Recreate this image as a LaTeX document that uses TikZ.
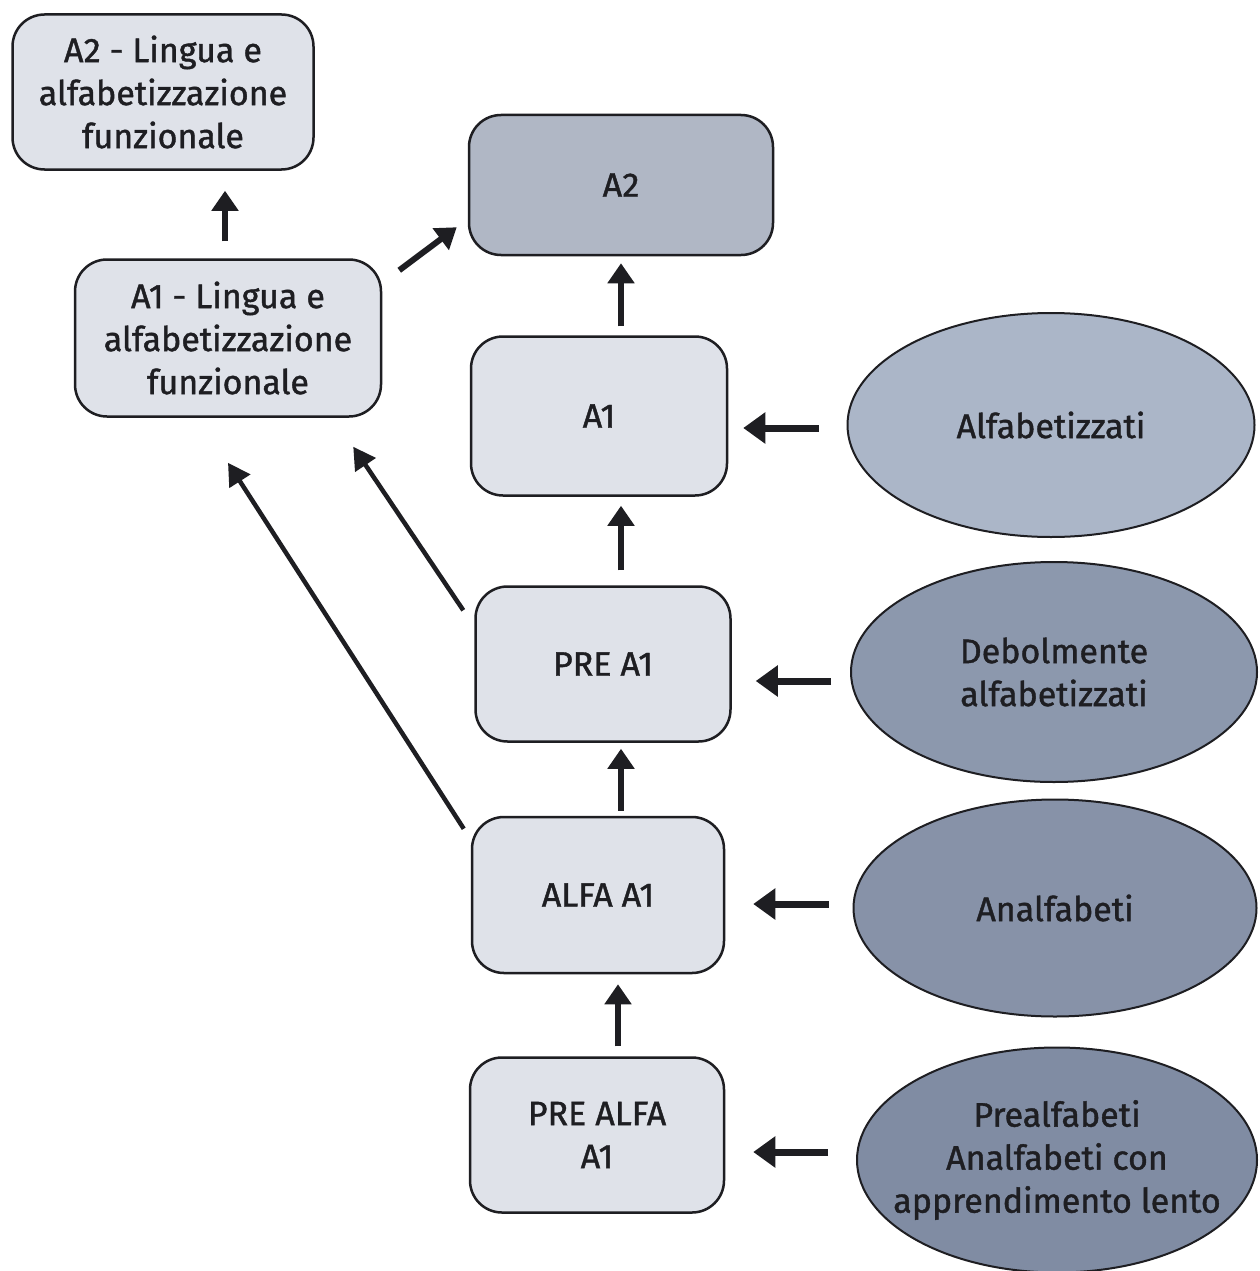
\documentclass[tikz,border=0pt]{standalone}
\usepackage{fontspec}
\setmainfont{Fira Sans}[FakeBold=1.2]
\usetikzlibrary{arrows.meta,shapes.geometric,calc}
\definecolor{boxfill}{HTML}{DFE2E9}
\definecolor{boxdark}{HTML}{B0B7C5}
\definecolor{ellA}{HTML}{ABB6C8}
\definecolor{ellB}{HTML}{8C98AD}
\definecolor{ellC}{HTML}{8792A8}
\definecolor{ellD}{HTML}{808CA3}
\definecolor{ink}{HTML}{1E1E22}
\begin{document}
\begin{tikzpicture}[x=1pt,y=-1pt,
  box/.style={draw=ink, line width=2.5pt, rounded corners=32pt, fill=boxfill,
    align=center, text=ink, inner sep=0pt,
    font=\fontsize{34}{43}\selectfont},
  ell/.style={ellipse, draw=ink, line width=2pt, inner sep=0pt},
  lbl/.style={align=center, text=ink, font=\fontsize{34}{43}\selectfont},
  arr/.style={draw=ink, line width=6pt, -{Triangle[width=26pt,length=20pt]}},
  harr/.style={draw=ink, line width=7pt, -{Triangle[width=30pt,length=22pt]}},
  darr/.style={draw=ink, line width=4.5pt, -{Triangle[width=24pt,length=22pt]}}
]
\useasboundingbox (0,0) rectangle (1259,1271);
\fill[white] (0,0) rectangle (1259,1271);

% boxes
\node[box, minimum width=301pt, minimum height=155pt] (A2LF) at (163,92)
  {A2 - Lingua e\\alfabetizzazione\\funzionale};
\node[box, minimum width=306pt, minimum height=157pt] (A1LF) at (228,338)
  {A1 - Lingua e\\alfabetizzazione\\funzionale};
\node[box, fill=boxdark, minimum width=304pt, minimum height=140pt] (A2) at (621,185) {A2};
\node[box, minimum width=256pt, minimum height=159pt] (A1) at (599,416) {A1};
\node[box, minimum width=255pt, minimum height=155pt] (PREA1) at (603,664) {PRE A1};
\node[box, minimum width=252pt, minimum height=156pt] (ALFAA1) at (598,895) {ALFA A1};
\node[box, minimum width=254pt, minimum height=155pt] (PREALFA) at (597,1135) {PRE ALFA\\A1};

% ellipses
\node[ell, fill=ellA, minimum width=407pt, minimum height=224pt,
  label={[lbl]center:Alfabetizzati}] (ALF) at (1051,425) {};
\node[ell, fill=ellB, minimum width=406pt, minimum height=220pt,
  label={[lbl]center:Debolmente\\alfabetizzati}] (DEB) at (1054,672) {};
\node[ell, fill=ellC, minimum width=403pt, minimum height=217pt,
  label={[lbl]center:Analfabeti}] (ANA) at (1055,908) {};
\node[ell, fill=ellD, minimum width=400pt, minimum height=225pt,
  label={[lbl]center:Prealfabeti\\Analfabeti con\\apprendimento lento}] (PRE) at (1057,1160) {};

% vertical arrows
\draw[arr] ($(A1LF.north)+(-3,-17)$) -- ($(A2LF.south -| A1LF.north)+(-3,20)$);
\draw[arr] ($(A1.north)+(22,-9)$) -- ($(A2.south)+(0,7)$);
\draw[arr] ($(PREA1.north)+(18,-15)$) -- ($(A1.south)+(22,9)$);
\draw[arr] ($(ALFAA1.north)+(23,-5)$) -- ($(PREA1.south)+(18,6)$);
\draw[arr] ($(PREALFA.north)+(21,-10)$) -- ($(ALFAA1.south)+(20,10)$);

% diagonal arrows
\draw[arr] ($(A1LF.north east)+(17,12)$) -- ($(A2.south west)+(-11,-29)$);
\draw[darr] ($(PREA1.north west)+(-11,25)$) -- ($(A1LF.south east)+(-29,29)$);
\draw[darr] ($(ALFAA1.north west)+(-7,13)$) -- ($(A1LF.south)+(0,45)$);

% horizontal arrows
\draw[harr] ($(ALF.west)+(-28,3)$) -- ($(A1.east)+(15,12)$);
\draw[harr] ($(DEB.west)+(-19,9)$) -- ($(PREA1.east)+(24,17)$);
\draw[harr] ($(ANA.west)+(-24,-4)$) -- ($(ALFAA1.east)+(28,9)$);
\draw[harr] ($(PRE.west)+(-28,-8)$) -- ($(PREALFA.east)+(28,17)$);
\end{tikzpicture}
\end{document}
